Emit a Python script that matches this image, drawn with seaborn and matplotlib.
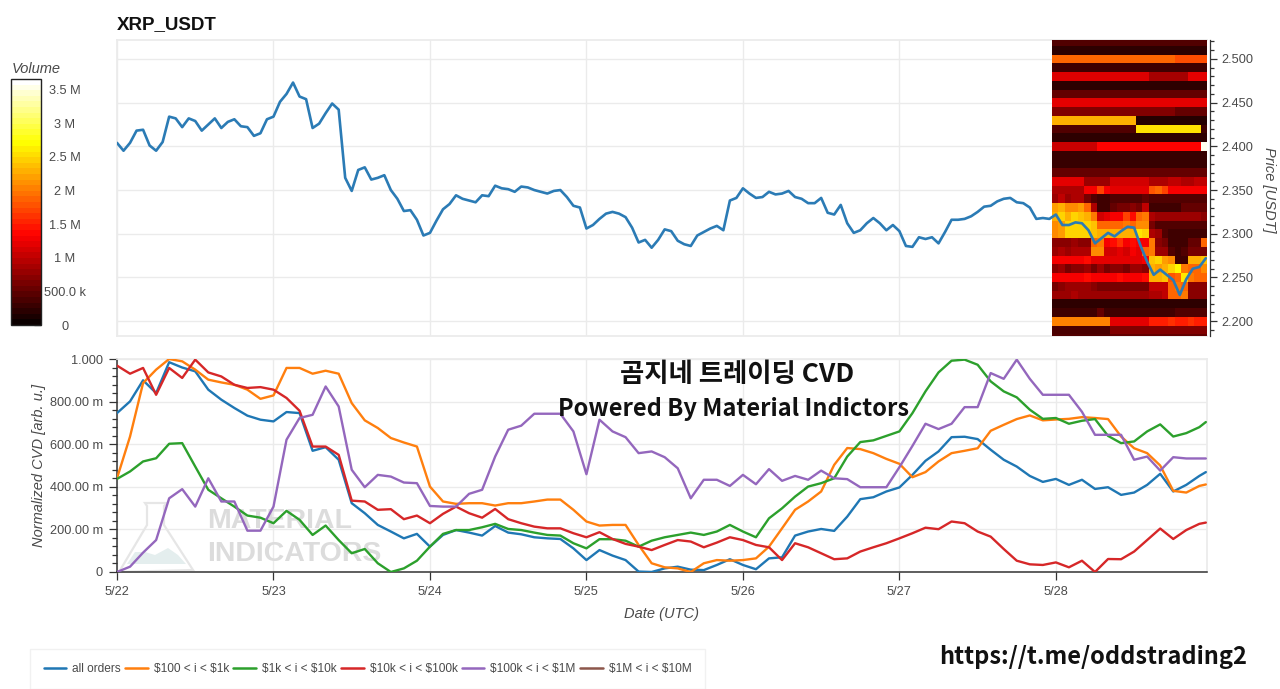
import numpy as np
import pandas as pd
import matplotlib
matplotlib.use("Agg")
import matplotlib.pyplot as plt
import seaborn as sns
from matplotlib.cm import ScalarMappable
from matplotlib.colors import Normalize
from matplotlib.lines import Line2D
from matplotlib.patches import Polygon
from matplotlib.ticker import MultipleLocator

# Price, one value per hour from 5/22 00:00
price = [
    2.404, 2.395, 2.404, 2.418, 2.419, 2.401, 2.395, 2.405, 2.434, 2.432, 2.422, 2.432,
    2.429, 2.418, 2.425, 2.432, 2.421, 2.428, 2.431, 2.423, 2.422, 2.412, 2.415, 2.431,
    2.434, 2.451, 2.460, 2.473, 2.457, 2.454, 2.421, 2.426, 2.438, 2.449, 2.442, 2.364,
    2.349, 2.373, 2.376, 2.362, 2.364, 2.367, 2.350, 2.340, 2.326, 2.327, 2.316, 2.298,
    2.301, 2.315, 2.328, 2.334, 2.344, 2.340, 2.338, 2.336, 2.344, 2.343, 2.355, 2.352,
    2.351, 2.348, 2.354, 2.353, 2.350, 2.348, 2.346, 2.349, 2.350, 2.342, 2.332, 2.330,
    2.306, 2.310, 2.317, 2.323, 2.325, 2.323, 2.319, 2.307, 2.290, 2.293, 2.284, 2.293,
    2.305, 2.303, 2.292, 2.288, 2.286, 2.298, 2.302, 2.306, 2.309, 2.304, 2.338, 2.341,
    2.352, 2.346, 2.341, 2.342, 2.348, 2.345, 2.346, 2.349, 2.342, 2.340, 2.335, 2.335,
    2.341, 2.324, 2.322, 2.333, 2.312, 2.301, 2.304, 2.312, 2.318, 2.312, 2.304, 2.310,
    2.303, 2.286, 2.285, 2.296, 2.294, 2.296, 2.289, 2.302, 2.316, 2.316, 2.317, 2.320,
    2.325, 2.331, 2.332, 2.337, 2.340, 2.341, 2.336, 2.335, 2.330, 2.317, 2.318, 2.317,
    2.322, 2.310, 2.310, 2.313, 2.312, 2.304, 2.289, 2.295, 2.301, 2.297, 2.303, 2.308,
    2.307, 2.286, 2.268, 2.253, 2.259, 2.253, 2.247, 2.230, 2.248, 2.260, 2.262, 2.272,
]

# CVD in milli units, one value every two hours, last one at 5/28 23:00
all_orders = [
    746, 801, 900, 840, 985, 960, 942, 856, 809, 770, 734, 715, 707, 751, 746, 569, 586, 527, 323, 276, 221,
    190, 158, 179, 119, 174, 197, 185, 171, 216, 185, 177, 163, 158, 155, 111, 56, 103, 77, 56, 2, 0, 17, 25,
    11, 9, 33, 60, 33, 13, 64, 69, 171, 190, 202, 193, 260, 342, 351, 378, 397, 456, 522, 566, 633, 635, 624,
    574, 527, 495, 451, 423, 437, 409, 433, 390, 398, 362, 373, 409, 461, 378, 409, 451, 469,
]
usd_100_1k = [
    440, 636, 887, 950, 1000, 989, 950, 903, 890, 879, 856, 813, 829, 958, 958, 931, 945, 931, 793, 712, 676,
    629, 608, 589, 401, 331, 320, 323, 323, 312, 323, 323, 331, 340, 340, 292, 237, 218, 221, 221, 127, 41, 22,
    17, 0, 41, 56, 53, 56, 64, 119, 205, 292, 331, 378, 503, 582, 577, 558, 531, 508, 445, 469, 519, 558, 569,
    581, 663, 691, 718, 735, 712, 716, 719, 727, 723, 718, 636, 581, 558, 500, 381, 373, 404, 411,
]
usd_1k_10k = [
    437, 472, 519, 534, 602, 605, 495, 386, 346, 307, 265, 255, 229, 287, 245, 174, 218, 150, 88, 108, 41, 0,
    17, 53, 119, 179, 197, 197, 210, 226, 202, 197, 185, 174, 171, 135, 111, 154, 154, 147, 119, 147, 163, 174,
    185, 174, 190, 221, 190, 163, 252, 299, 354, 401, 417, 440, 542, 610, 618, 639, 660, 746, 848, 937, 992,
    997, 973, 895, 848, 820, 762, 719, 723, 696, 710, 718, 639, 605, 613, 660, 693, 636, 652, 680, 704,
]
usd_10k_100k = [
    969, 931, 958, 832, 958, 911, 997, 937, 918, 879, 864, 868, 856, 817, 757, 589, 589, 550, 335, 331, 292,
    295, 248, 265, 229, 273, 307, 276, 255, 296, 248, 229, 213, 205, 205, 182, 163, 187, 155, 132, 119, 103,
    127, 150, 143, 116, 138, 163, 150, 127, 116, 56, 135, 116, 88, 60, 64, 96, 116, 135, 158, 182, 208, 201,
    237, 229, 190, 166, 108, 53, 36, 33, 45, 22, 53, 0, 61, 60, 96, 150, 204, 155, 197, 226, 232,
]
usd_100k_1m = [
    0, 25, 91, 150, 346, 389, 307, 440, 331, 331, 194, 194, 307, 621, 723, 738, 871, 777, 480, 398, 456, 448,
    420, 417, 310, 307, 307, 367, 386, 542, 668, 687, 743, 743, 743, 660, 459, 715, 660, 633, 558, 566, 539,
    487, 346, 433, 433, 404, 456, 412, 483, 428, 451, 433, 476, 440, 436, 398, 398, 398, 492, 592, 696, 671,
    696, 774, 774, 934, 907, 997, 907, 832, 832, 832, 752, 644, 644, 644, 527, 542, 476, 539, 533, 533, 533,
]

# Order book volume in units of 100k, rows from 2.52 down to 2.18, one column per hour of 5/28
volume = [
    [4, 4, 4, 4, 4, 4, 4, 4, 4, 4, 4, 4, 4, 4, 4, 4, 4, 4, 4, 4, 4, 4, 4, 4],
    [2, 2, 2, 2, 2, 2, 2, 2, 2, 2, 2, 2, 2, 2, 2, 2, 2, 2, 2, 2, 2, 2, 2, 2],
    [19, 19, 19, 19, 19, 19, 19, 19, 19, 19, 19, 19, 19, 19, 19, 19, 19, 19, 19, 17.5, 17.5, 17.5, 17.5, 17.5],
    [3, 3, 3, 3, 3, 3, 3, 3, 3, 3, 3, 3, 3, 3, 3, 3, 3, 3, 3, 3, 3, 3, 3, 3],
    [11.5, 11.5, 11.5, 11.5, 11.5, 11.5, 11.5, 11.5, 11.5, 11.5, 11.5, 11.5, 11.5, 11.5, 11.5, 8.5, 8.5, 8.5, 8.5, 8.5, 8.5, 12, 12, 12],
    [2, 2, 2, 2, 2, 2, 2, 2, 2, 2, 2, 2, 2, 2, 2, 2, 2, 2, 2, 2, 2, 2, 2, 2],
    [5, 5, 5, 5, 5, 5, 5, 5, 5, 5, 5, 5, 5, 5, 5, 5, 5, 5, 5, 5, 5, 5, 5, 5],
    [12, 12, 12, 12, 12, 12, 12, 12, 12, 12, 12, 12, 12, 12, 12, 12, 12, 12, 12, 12, 12, 12, 12, 12],
    [6.5, 6.5, 6.5, 6.5, 6.5, 6.5, 6.5, 6.5, 6.5, 6.5, 6.5, 6.5, 6.5, 6.5, 6.5, 6.5, 6.5, 6.5, 6.5, 5, 5, 5, 5, 5],
    [23, 23, 23, 23, 23, 23, 23, 23, 23, 23, 23, 23, 23, 1.5, 1.5, 1.5, 1.5, 1.5, 1.5, 1.5, 1.5, 1.5, 1.5, 1.5],
    [4, 4, 4, 4, 4, 4, 4, 4, 4, 4, 4, 4, 4, 25.6, 25.6, 25.6, 25.6, 25.6, 25.6, 25.6, 25.6, 25.6, 25.6, 3],
    [2, 2, 2, 2, 2, 2, 2, 2, 2, 2, 2, 2, 2, 2, 2, 2, 2, 2, 2, 2, 2, 2, 2, 2],
    [10.5, 10.5, 10.5, 10.5, 10.5, 10.5, 10.5, 13.5, 13.5, 13.5, 13.5, 13.5, 13.5, 13.5, 13.5, 13.5, 13.5, 13.5, 13.5, 13.5, 13.5, 13.5, 13.5, 36],
    [2.5, 2.5, 2.5, 2.5, 2.5, 2.5, 2.5, 2.5, 2.5, 2.5, 2.5, 2.5, 2.5, 2.5, 2.5, 2.5, 2.5, 2.5, 2.5, 2.5, 2.5, 2.5, 2.5, 2.5],
    [2.5, 2.5, 2.5, 2.5, 2.5, 2.5, 2.5, 2.5, 2.5, 2.5, 2.5, 2.5, 2.5, 2.5, 2.5, 2.5, 2.5, 2.5, 2.5, 2.5, 2.5, 2.5, 2.5, 2.5],
    [5, 5, 5, 5, 5, 5, 5, 5, 5, 5, 5, 5, 5, 5, 5, 5, 5, 5, 5, 5, 5, 5, 5, 5],
    [12, 12, 12, 12, 12, 8, 8, 8, 8, 11, 11, 11, 11, 11, 11, 9, 9, 9, 10, 10, 9, 9, 10, 10],
    [9, 9, 9, 9, 9, 13, 13, 17, 13, 12, 12, 12, 12, 12, 12, 18, 19, 17, 13, 13, 13, 13, 13, 13],
    [8, 10, 8, 9, 9, 6, 4, 3, 3, 4, 4, 4, 4, 4, 5, 4, 4, 4, 4, 4, 4, 4, 4, 4],
    [22, 23, 21, 21, 22, 19, 9, 3, 3, 5, 6, 6, 7, 6, 10, 3, 3, 3, 3, 3, 5, 5, 5, 5],
    [23, 25, 23, 25, 24, 23, 20, 11, 12, 13, 13, 17, 14, 19, 20, 9, 8, 8, 8, 8, 8, 8, 8, 7],
    [21, 22, 25, 25, 25, 25, 24, 19, 19, 19, 19, 20, 19, 21, 21, 6, 4, 4, 4, 4, 4, 4, 4, 4],
    [21, 22, 25, 25, 25, 25, 24, 23, 23, 23, 23, 23, 23, 26, 25, 9, 8, 4, 3, 3, 3, 3, 3, 3],
    [7, 7, 7, 8, 7, 7, 19, 20, 13, 14, 16, 13, 14, 13, 13, 20, 7, 6, 3, 3, 3, 5, 5, 19],
    [8, 9, 8, 9, 9, 9, 21, 21, 11, 11, 12, 11, 13, 12, 19, 20, 8, 8, 4, 3, 4, 6, 6, 6],
    [13, 13, 13, 13, 13, 14, 12, 12, 12, 12, 12, 12, 12, 12, 13, 24, 25, 22, 21, 3, 3, 23, 23, 24],
    [7, 8, 6, 7, 7, 8, 6, 8, 6, 7, 7, 6, 8, 8, 7, 23, 22, 23, 25, 27, 20, 19, 19, 21],
    [13, 13, 13, 13, 13, 14, 13, 13, 13, 13, 14, 13, 13, 13, 14, 23, 23, 24, 18, 19, 26, 20, 19, 19],
    [6, 7, 8, 8, 8, 8, 7, 6, 6, 6, 6, 6, 6, 6, 6, 10, 10, 10, 19, 20, 19, 7, 7, 7],
    [8, 8, 8, 9, 8, 8, 8, 8, 8, 8, 8, 8, 8, 8, 8, 9, 9, 10, 19, 19, 20, 7, 7, 7],
    [2, 2, 2, 2, 2, 2, 2, 2, 2, 2, 2, 2, 2, 2, 2, 2, 2, 2, 2, 2, 2, 2, 2, 2],
    [3, 3, 3, 3, 3, 3, 3, 5, 3, 3, 3, 3, 3, 3, 3, 3, 3, 3, 3, 4, 4, 4, 4, 4],
    [20.5, 20.5, 20.5, 20.5, 20.5, 20.5, 20.5, 20.5, 20.5, 12, 12, 12, 12, 12, 12, 15, 15, 15, 16, 15, 15, 16, 15, 15],
    [3.5, 3.5, 3.5, 3.5, 3.5, 3.5, 3.5, 3.5, 3.5, 6.5, 6.5, 6.5, 6.5, 6.5, 6.5, 6.5, 6.5, 6.5, 6.5, 6.5, 6.5, 6.5, 6.5, 6.5],
    [4, 4, 4, 4, 4, 4, 4, 4, 4, 5, 5, 5, 5, 5, 5, 5, 5, 5, 5, 5, 5, 5, 5, 5],
]

series_names = ["all orders", "$100 < i < $1k", "$1k < i < $10k", "$10k < i < $100k", "$100k < i < $1M", "$1M < i < $10M"]
series_colors = ["#1f77b4", "#ff7f0e", "#2ca02c", "#d62728", "#9467bd", "#8c564b"]
day_labels = ["5/22", "5/23", "5/24", "5/25", "5/26", "5/27", "5/28"]
cvd_labels = ["0", "200.00 m", "400.00 m", "600.00 m", "800.00 m", "1.000"]
volume_labels = ["0", "500.0 k", "1 M", "1.5 M", "2 M", "2.5 M", "3 M", "3.5 M"]

W, H = 1280, 689
GRAY = "#4a4a4a"
GRID = "#ebebeb"


def rect(left, right, top, bottom):
    return [left / W, 1 - bottom / H, (right - left) / W, (bottom - top) / H]


sns.set_theme(style="white")
plt.rcParams["font.family"] = ["Liberation Sans", "Noto Sans CJK KR", "DejaVu Sans"]

fig = plt.figure(figsize=(W / 100, H / 100), dpi=100, facecolor="white")

price_hours = np.arange(len(price))
cvd_hours = np.append(np.arange(0, 168, 2), 167)
day_ticks = np.arange(0, 168, 24)
hour_max = 1090 / 6.52

# --- top panel: grid and price axis, then heatmap, then price line above it
ax_price = fig.add_axes(rect(117, 1207, 40, 336), zorder=1)
ax_price.set_xlim(0, hour_max)
ax_price.set_ylim(2.183, 2.5217)
ax_price.set_xticks(day_ticks)
ax_price.yaxis.set_major_locator(MultipleLocator(0.05))
ax_price.yaxis.set_minor_locator(MultipleLocator(0.01))
ax_price.yaxis.tick_right()
ax_price.yaxis.set_major_formatter(lambda v, pos: f"{v:.3f}")
ax_price.grid(True, which="major", color=GRID, lw=1.0)
ax_price.set_axisbelow(True)
ax_price.tick_params(axis="x", length=0, labelbottom=False)
ax_price.tick_params(axis="y", which="major", right=True, length=5, width=0.9, color="#333333", labelsize=9.2, labelcolor=GRAY, pad=3)
ax_price.tick_params(axis="y", which="minor", right=True, length=3, width=0.9, color="#333333")
for name in ["top", "left", "bottom"]:
    ax_price.spines[name].set_color(GRID)
ax_price.spines["right"].set_position(("outward", 2))
ax_price.spines["right"].set_color("#333333")
ax_price.spines["right"].set_linewidth(0.9)

ax_heat = fig.add_axes(rect(1052, 1207, 40, 336), zorder=2)
sns.heatmap(pd.DataFrame(volume), ax=ax_heat, cmap="hot", vmin=0, vmax=36.6, cbar=False,
            xticklabels=False, yticklabels=False)
ax_heat.set_ylim(34.2, 0.33)
ax_heat.set_xlabel("")
ax_heat.set_ylabel("")

ax_line = fig.add_axes(rect(117, 1207, 40, 336), zorder=3)
ax_line.patch.set_alpha(0)
sns.lineplot(x=price_hours, y=price, ax=ax_line, color="#2b7bb5", lw=1.9, estimator=None)
ax_line.set_xlim(ax_price.get_xlim())
ax_line.set_ylim(ax_price.get_ylim())
ax_line.axis("off")

# --- bottom panel
ax_cvd = fig.add_axes(rect(117, 1207, 359, 572))
cvd = pd.DataFrame({
    series_names[0]: all_orders,
    series_names[1]: usd_100_1k,
    series_names[2]: usd_1k_10k,
    series_names[3]: usd_10k_100k,
    series_names[4]: usd_100k_1m,
}, index=cvd_hours)
cvd_long = cvd.rename_axis("hour").reset_index().melt("hour", var_name="size", value_name="cvd")
sns.lineplot(data=cvd_long, x="hour", y="cvd", hue="size", palette=dict(zip(series_names, series_colors)),
             lw=1.7, legend=False, ax=ax_cvd, estimator=None, zorder=3)
ax_cvd.set_xlim(0, hour_max)
ax_cvd.set_ylim(0, 1000)
ax_cvd.set_xticks(day_ticks, labels=day_labels)
ax_cvd.set_yticks([0, 200, 400, 600, 800, 1000], labels=cvd_labels)
ax_cvd.yaxis.set_minor_locator(MultipleLocator(40))
ax_cvd.grid(True, which="major", color=GRID, lw=1.0)
ax_cvd.set_axisbelow(True)
ax_cvd.tick_params(axis="both", which="major", bottom=True, left=True, length=6, width=0.9, color="#333333",
                   labelsize=9.2, labelcolor=GRAY, pad=4)
ax_cvd.tick_params(axis="y", which="minor", left=True, length=3.5, width=0.9, color="#333333")
ax_cvd.set_xlabel("Date (UTC)", style="italic", fontsize=10.5, color=GRAY, labelpad=6.5)
ax_cvd.set_ylabel("Normalized CVD [arb. u.]", style="italic", fontsize=10.5, color=GRAY, labelpad=3)
for name in ["top", "right"]:
    ax_cvd.spines[name].set_color(GRID)
for name in ["left", "bottom"]:
    ax_cvd.spines[name].set_color("#333333")
    ax_cvd.spines[name].set_linewidth(1.1)

# watermark behind the lines
to_fig = lambda pts: [(x / W, 1 - y / H) for x, y in pts]
ax_cvd.add_patch(Polygon(to_fig([(145, 503), (167, 503), (164, 506), (164, 525), (193, 570), (119, 572), (147, 525), (147, 506)]),
                         closed=True, transform=fig.transFigure, fill=False, ec="#e6e6e6", lw=1.6, zorder=1, clip_on=False))
ax_cvd.add_patch(Polygon(to_fig([(127, 564), (135, 552), (145, 552), (155, 555), (168, 548), (178, 555), (186, 564)]),
                         closed=True, transform=fig.transFigure, fc="#e4eeee", ec="none", zorder=1))
ax_cvd.text(207 / W, 1 - 521 / H, "MATERIAL", transform=fig.transFigure, fontsize=20.5, fontweight="bold", color="#dcdcdc", va="center", zorder=1)
ax_cvd.text(207 / W, 1 - 554 / H, "INDICATORS", transform=fig.transFigure, fontsize=20.5, fontweight="bold", color="#dcdcdc", va="center", zorder=1)

# --- volume colour bar
ax_bar = fig.add_axes(rect(11, 41, 79, 325))
bar = fig.colorbar(ScalarMappable(Normalize(0, 36.6), plt.get_cmap("hot").resampled(44)), cax=ax_bar)
bar.set_ticks([0, 5, 10, 15, 20, 25, 30, 35], labels=volume_labels)
bar.outline.set_edgecolor("#222222")
bar.outline.set_linewidth(1.0)
ax_bar.tick_params(axis="y", direction="in", length=5, width=0.9, color="#222222", labelsize=9.2, labelcolor=GRAY, pad=17)
for label in ax_bar.get_yticklabels():
    label.set_ha("center")
fig.text(12 / W, 1 - 69 / H, "Volume", style="italic", fontsize=10.5, color=GRAY, va="center")

# --- texts
fig.text(117 / W, 1 - 25 / H, "XRP_USDT", fontsize=13.5, fontweight="bold", color="#111111", va="center")
fig.text(1269 / W, 1 - 190 / H, "Price [USDT]", style="italic", fontsize=10.5, color=GRAY, rotation=270, ha="center", va="center")
fig.text(737 / W, 1 - 375 / H, "곰지네 트레이딩 CVD", fontsize=19, fontweight="bold", color="#111111",
         family=["Noto Sans CJK KR", "DejaVu Sans"], ha="center", va="center", zorder=5)
fig.text(734 / W, 1 - 409 / H, "Powered By Material Indictors", fontsize=17, fontweight="bold", color="#111111",
         family=["Noto Sans CJK KR", "DejaVu Sans"], ha="center", va="center", zorder=5)
fig.text(1093 / W, 1 - 657 / H, "https://t.me/oddstrading2", fontsize=17, fontweight="bold", color="#111111",
         family=["Noto Sans CJK KR", "DejaVu Sans"], ha="center", va="center")

# --- legend
handles = [Line2D([], [], color=c, lw=1.8) for c in series_colors]
labels = [n.replace("$", r"\$") for n in series_names]
fig.legend(handles, labels, ncol=6, loc="center", bbox_to_anchor=(367.5 / W, 1 - 669 / H), fontsize=8.6,
           frameon=True, fancybox=False, edgecolor="#eeeeee", labelcolor=GRAY, handlelength=1.9, handletextpad=0.5,
           columnspacing=0.35, borderpad=1.15, borderaxespad=0)

fig.savefig("out.png", dpi=100)
